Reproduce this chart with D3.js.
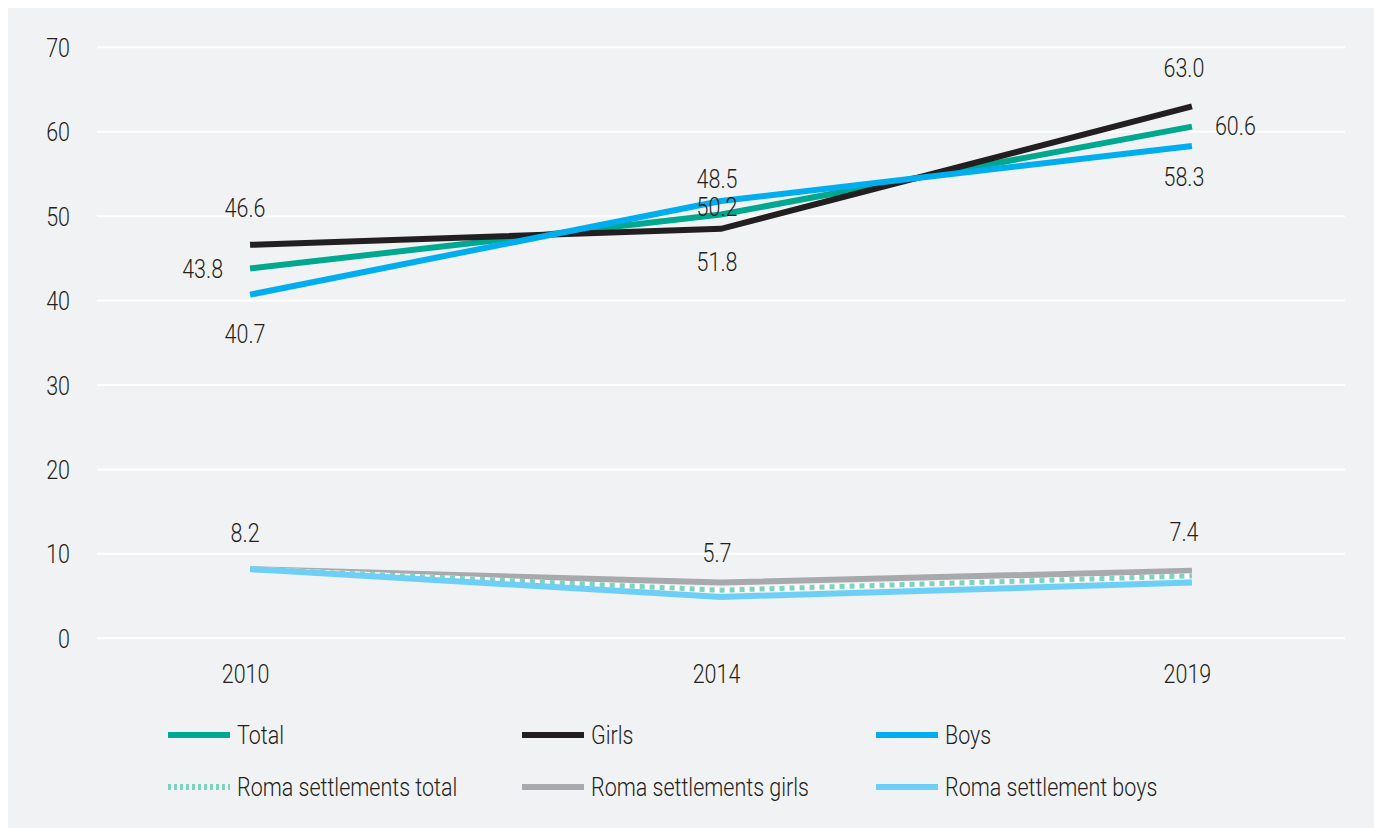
<!DOCTYPE html>
<html>
<head>
<meta charset="utf-8">
<script src="https://cdn.jsdelivr.net/npm/d3@7"></script>
<style>
  body { margin: 0; background: #fff; }
  svg text { font-family: "Roboto", "Liberation Sans Narrow", sans-serif; font-weight: 300; fill: #231f20; }
</style>
</head>
<body>
<svg id="chart"></svg>
<script>
// data
var years = ["2010", "2014", "2019"];
var total = [43.8, 50.2, 60.6];
var girls = [46.6, 48.5, 63.0];
var boys = [40.7, 51.8, 58.3];
var romaTotal = [8.2, 5.7, 7.4];
var romaGirls = [8.2, 6.6, 8.0];
var romaBoys = [8.2, 4.9, 6.6];
var yTicks = [0, 10, 20, 30, 40, 50, 60, 70];

var width = 1374, height = 828;
var fontSize = "25px";
var squeeze = 0.86; // narrow the text horizontally, the original face is condensed

var svg = d3.select("#chart")
  .attr("width", width)
  .attr("height", height);

// panel background
svg.append("rect")
  .attr("x", 8).attr("y", 8)
  .attr("width", width - 8).attr("height", height - 8)
  .attr("fill", "#f1f2f4");

var x = d3.scalePoint().domain(years).range([97, 1345]).padding(0.325);
var y = d3.scaleLinear().domain([0, 70]).range([638.3, 47.3]);

// gridlines
svg.append("g")
  .selectAll("line").data(yTicks).enter().append("line")
    .attr("x1", 97).attr("x2", 1345)
    .attr("y1", d => y(d)).attr("y2", d => y(d))
    .attr("stroke", "#fff")
    .attr("stroke-width", 2);

// y axis labels
var yAxis = svg.append("g")
  .attr("transform", "translate(70,0)")
  .call(d3.axisLeft(y).tickValues(yTicks).tickSize(0).tickPadding(0));
yAxis.select(".domain").remove();
yAxis.selectAll("text")
  .attr("x", null)
  .attr("transform", "scale(" + squeeze + ",1)")
  .style("font-size", fontSize)
  .attr("dy", "0.36em");

// x axis labels
var xAxis = svg.append("g")
  .attr("transform", "translate(-5,664)")
  .call(d3.axisBottom(x).tickSize(0).tickPadding(0));
xAxis.select(".domain").remove();
xAxis.selectAll("text")
  .attr("y", null)
  .attr("transform", "scale(" + squeeze + ",1)")
  .style("font-size", fontSize)
  .attr("dy", "0.76em");

var series = [
  { name: "Total", values: total, color: "#00a88f" },
  { name: "Girls", values: girls, color: "#231f20" },
  { name: "Boys", values: boys, color: "#00aeef" },
  { name: "Roma settlements total", values: romaTotal, color: "#7fd1c0", dotted: true },
  { name: "Roma settlements girls", values: romaGirls, color: "#a7a9ac" },
  { name: "Roma settlement boys", values: romaBoys, color: "#6dcff6" }
];

var line = d3.line()
  .x((d, i) => x(years[i]))
  .y(d => y(d));

// draw order: total, girls, boys, roma girls, roma total, roma boys
var order = [0, 1, 2, 4, 3, 5];
order.forEach(function (k) {
  var s = series[k];
  if (s.dotted) {
    svg.append("path")
      .attr("d", line(s.values))
      .attr("fill", "none")
      .attr("stroke", "#fff")
      .attr("stroke-width", 5);
    svg.append("path")
      .attr("d", line(s.values))
      .attr("fill", "none")
      .attr("stroke", s.color)
      .attr("stroke-width", 5)
      .attr("stroke-dasharray", "5,5");
  } else {
    svg.append("path")
      .attr("d", line(s.values))
      .attr("fill", "none")
      .attr("stroke", s.color)
      .attr("stroke-width", 6)
      .attr("stroke-linejoin", "miter");
  }
});

// data labels: [series index, year index, dx, dy (from the point), anchor]
var labelLayout = [
  [1, 0, -5, -28, "middle"],
  [0, 0, -27, 9, "end"],
  [2, 0, -5, 48, "middle"],
  [1, 1, -4, -41, "middle"],
  [0, 1, -4, 2, "middle"],
  [2, 1, -4, 70, "middle"],
  [1, 2, -8, -29, "middle"],
  [0, 2, 23, 8, "start"],
  [2, 2, -8, 40, "middle"],
  [3, 0, -5, -27, "middle"],
  [3, 1, -4, -28, "middle"],
  [3, 2, -8, -35, "middle"]
];

svg.append("g")
  .selectAll("text").data(labelLayout).enter().append("text")
    .attr("transform", d => "translate(" + (x(years[d[1]]) + d[2]) + "," +
      (y(series[d[0]].values[d[1]]) + d[3]) + ") scale(" + squeeze + ",1)")
    .attr("text-anchor", d => d[4])
    .style("font-size", fontSize)
    .text(d => series[d[0]].values[d[1]].toFixed(1));

// legend
var legend = svg.append("g");
var item = legend.selectAll("g").data(series).enter().append("g")
  .attr("transform", (d, i) => "translate(" + (168 + (i % 3) * 354) + "," + (735 + Math.floor(i / 3) * 52) + ")");

item.each(function (d) {
  var g = d3.select(this);
  g.append("line")
    .attr("x1", 0).attr("x2", 62)
    .attr("stroke", d.color)
    .attr("stroke-width", 6)
    .attr("stroke-dasharray", d.dotted ? "3,3" : null);
});

item.append("text")
  .attr("transform", "translate(69,0) scale(" + squeeze + ",1)")
  .attr("dy", "0.36em")
  .style("font-size", fontSize)
  .text(d => d.name);
</script>
</body>
</html>
